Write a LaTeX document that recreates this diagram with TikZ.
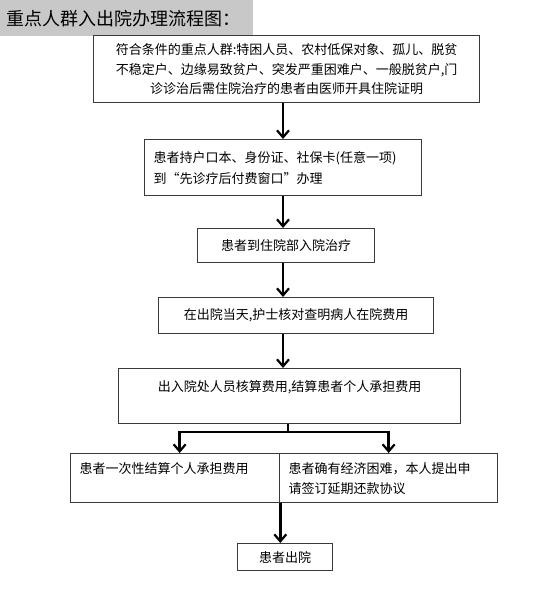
\documentclass[tikz,border=0pt]{standalone}
\usepackage{fontspec}
\usetikzlibrary{arrows.meta}
\newfontfamily\cjk{Noto Sans CJK SC}
\definecolor{frame}{HTML}{3A3A3A}
\definecolor{titlegray}{HTML}{C8C8C8}

\begin{document}
\begin{tikzpicture}[x=1pt,y=-1pt,
stepbox/.style={draw=frame,line width=1.3pt,anchor=north west,inner xsep=9pt,inner ysep=0pt,font=\cjk\fontsize{13}{20}\selectfont},
flowline/.style={line width=2.6pt,black},
flow/.style={flowline,-{Straight Barb[length=7pt,width=12pt,line width=2.2pt]}}]

\useasboundingbox (0,0) rectangle (555,593);

% title bar
\fill[titlegray] (0,0) rectangle (253,36);
\node[anchor=west,font=\cjk\fontsize{18}{22}\selectfont] (title) at (3,19){重点人群入出院办理流程图：};

% main column
\node[stepbox,minimum width=386pt,minimum height=67pt,align=center,font=\cjk\fontsize{13}{19.5}\selectfont] (b1) at (93,35){符合条件的重点人群:特困人员、农村低保对象、孤儿、脱贫\\不稳定户、边缘易致贫户、突发严重困难户、一般脱贫户,门\\诊诊治后需住院治疗的患者由医师开具住院证明};
\node[stepbox,minimum width=277pt,minimum height=56pt,align=left,text width=259pt,font=\cjk\fontsize{13}{21}\selectfont] (b2) at (144,139){患者持户口本、身份证、社保卡(任意一项)\\到“先诊疗后付费窗口”办理};
\node[stepbox,minimum width=177pt,minimum height=34pt,align=center] (b3) at (197,228){患者到住院部入院治疗};
\node[stepbox,minimum width=275pt,minimum height=36pt,align=center] (b4) at (158,297){在出院当天,护士核对查明病人在院费用};
\node[stepbox,minimum width=342pt,minimum height=55pt,align=center] (b5) at (118,368){出入院处人员核算费用,结算患者个人承担费用\\\mbox{}};

% two outcomes
\node[stepbox,minimum width=209pt,minimum height=49pt,align=left,text width=191pt,inner xsep=8pt] (b6l) at (70,453){患者一次性结算个人承担费用\\\mbox{}};
\node[stepbox,minimum width=218pt,minimum height=49pt,align=left,text width=200pt] (b6r) at (279,453){患者确有经济困难，本人提出申\\请签订延期还款协议};
\node[stepbox,minimum width=95pt,minimum height=27pt,align=center] (b7) at (237,543){患者出院};

\coordinate (spine) at (283,0);
\coordinate (fork) at (288,432);

\draw[flow] (b1.south -| spine) -- (b2.north -| spine);
\draw[flow] (b2.south -| spine) -- (b3.north -| spine);
\draw[flow] (b3.south -| spine) -- (b4.north -| spine);
\draw[flow] (b4.south -| spine) -- (b5.north -| spine);
\draw[flowline] (b5.south -| fork) -- (fork);
\draw[flow] (fork) -| ([xshift=4.5pt]b6l.north);
\draw[flow] (fork) -| (b6r.north);
\draw[flow] (b6l.south east) -- (b7.north -| b6l.south east);
\end{tikzpicture}
\end{document}
